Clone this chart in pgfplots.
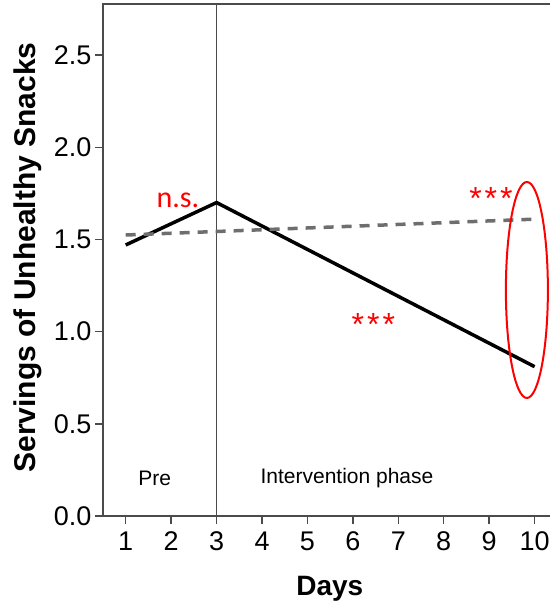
\documentclass[border=0pt]{standalone}
\usepackage{pgfplots}
\pgfplotsset{compat=1.18}
\usepackage{fontspec}
\setmainfont{Liberation Sans}
\newfontfamily\calibri{Carlito}
\definecolor{axgray}{RGB}{75,75,75}
\definecolor{dashgray}{RGB}{110,110,110}
\definecolor{sigred}{RGB}{255,0,0}
\begin{document}
\begin{tikzpicture}
\begin{axis}[
  scale only axis, width=460pt, height=512pt,
  xmin=0.5, xmax=10.625, ymin=0, ymax=2.777,
  xtick={1,2,3,4,5,6,7,8,9,10},
  ytick={0,0.5,1,1.5,2,2.5},
  yticklabel style={/pgf/number format/.cd, fixed, fixed zerofill, precision=1},
  /pgf/number format/assume math mode=true,
  tick label style={font=\fontsize{27}{32}\selectfont, text=black},
  xticklabel style={yshift=-4pt},
  xtick pos=bottom, ytick pos=left,
  tick align=outside, major tick length=8pt,
  axis line style={axgray, line width=1.4pt},
  tick style={axgray, line width=1.4pt},
  xlabel={Days},
  ylabel={Servings of Unhealthy Snacks},
  xlabel style={font=\bfseries\fontsize{28}{32}\selectfont, at={(axis description cs:0.493,-0.1426)}, anchor=center},
  ylabel style={font=\bfseries\fontsize{30}{34}\selectfont, at={(axis description cs:-0.163,0.505)}, anchor=center},
  clip=false,
]
\draw[axgray, line width=1.7pt] (axis cs:3,0) -- (axis cs:3,2.777);
\addplot[black, line width=3.5pt, mark=none] coordinates {(1,1.47) (3,1.70) (10,0.81)};
\addplot[dashgray, line width=3.5pt, mark=none, dash pattern=on 10pt off 8pt] coordinates {(1,1.524) (10,1.61)};
\node[font=\fontsize{21}{25}\selectfont] at (axis cs:1.64,0.206) {Pre};
\node[font=\fontsize{21}{25}\selectfont] at (axis cs:5.87,0.206) {Intervention phase};
\node[font=\calibri\fontsize{30}{36}\selectfont, text=sigred] at (axis cs:2.15,1.714) {n.s.};
\node[font=\fontsize{32}{36}\selectfont, text=sigred, anchor=base, inner sep=0pt] at (axis cs:9.04,1.662) {*\kern3pt*\kern3pt*};
\node[font=\fontsize{32}{36}\selectfont, text=sigred, anchor=base, inner sep=0pt] at (axis cs:6.45,0.979) {*\kern3pt*\kern3pt*};
\draw[sigred, line width=2pt] (axis cs:9.83,1.226) ellipse [x radius=21pt, y radius=108pt];
\end{axis}
\pgfresetboundingbox
\path (-103pt,-88pt) rectangle (446pt,516pt);
\end{tikzpicture}
\end{document}
